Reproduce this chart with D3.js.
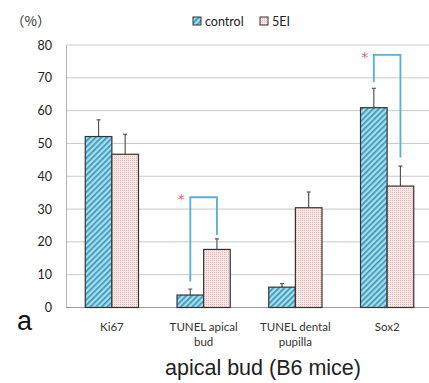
<!DOCTYPE html>
<html>
<head>
<meta charset="utf-8">
<script src="https://cdn.jsdelivr.net/npm/d3@7"></script>
<style>
  body { margin: 0; background: #fff; }
  svg { display: block; }
</style>
</head>
<body>
<div id="chart"></div>
<script>
const WIDTH = 429
const HEIGHT = 383

// data
const categories = ["Ki67", "TUNEL apical bud", "TUNEL dental pupilla", "Sox2"]
const categoryLines = [["Ki67"], ["TUNEL apical", "bud"], ["TUNEL dental", "pupilla"], ["Sox2"]]
const seriesNames = ["control", "5EI"]
const controlValues = [52.1, 3.8, 6.2, 60.9]
const controlErrors = [5.1, 1.8, 1.1, 5.9]
const feiValues = [46.7, 17.7, 30.4, 37.0]
const feiErrors = [6.1, 3.2, 4.8, 6.1]
const yTicks = [0, 10, 20, 30, 40, 50, 60, 70, 80]
// significance brackets: top of bracket, bottom of left leg, bottom of right leg
const sigCategories = ["TUNEL apical bud", "Sox2"]
const sigTop = [33.6, 77.0]
const sigLeft = [7.9, 68.7]
const sigRight = [22.1, 45.7]

const svg = d3.select("#chart").append("svg")
    .attr("width", WIDTH)
    .attr("height", HEIGHT)

const defs = svg.append("defs")

const hatch = defs.append("pattern")
    .attr("id", "hatch")
    .attr("patternUnits", "userSpaceOnUse")
    .attr("width", 4)
    .attr("height", 4)
    .attr("patternTransform", "rotate(45)")
hatch.append("rect").attr("width", 4).attr("height", 4).attr("fill", "#a3def0")
hatch.append("rect").attr("width", 1.6).attr("height", 4).attr("fill", "#3a92b2")

const dots = defs.append("pattern")
    .attr("id", "dots")
    .attr("patternUnits", "userSpaceOnUse")
    .attr("width", 2)
    .attr("height", 2)
dots.append("rect").attr("width", 2).attr("height", 2).attr("fill", "#fbe6e6")
dots.append("rect").attr("width", 1).attr("height", 1).attr("fill", "#e9b9b9")

const fills = { "control": "url(#hatch)", "5EI": "url(#dots)" }

const x = d3.scaleBand()
    .domain(categories)
    .range([66, 433])
    .paddingInner(0.42)
    .paddingOuter(0.21)

const xSub = d3.scaleBand()
    .domain(seriesNames)
    .range([0, x.bandwidth()])

const y = d3.scaleLinear()
    .domain([0, 80])
    .range([307.5, 45])

// grid lines
svg.append("g")
    .selectAll("line")
    .data(yTicks.slice(1))
    .join("line")
    .attr("x1", 66)
    .attr("x2", WIDTH)
    .attr("y1", d => y(d))
    .attr("y2", d => y(d))
    .attr("stroke", "#c9c9c9")
    .attr("stroke-width", 1)

// y axis
const yAxis = svg.append("g")
    .attr("transform", "translate(66,0)")
    .call(d3.axisLeft(y).tickValues(yTicks).tickSize(0).tickPadding(14))
yAxis.select(".domain").attr("stroke", "#b5b5b5")
yAxis.selectAll("text")
    .attr("font-family", "Lato, 'Open Sans', sans-serif")
    .attr("font-size", 12.5)
    .attr("fill", "#222")

// x axis baseline
svg.append("line")
    .attr("x1", 66).attr("x2", WIDTH)
    .attr("y1", y(0)).attr("y2", y(0))
    .attr("stroke", "#9a9a9a")

const rows = categories.map((c, i) => [
    { cat: c, key: "control", value: controlValues[i], err: controlErrors[i] },
    { cat: c, key: "5EI", value: feiValues[i], err: feiErrors[i] }
]).flat()

// error bars (behind bars)
const errG = svg.append("g")
    .attr("stroke", "#555")
    .attr("stroke-width", 1.2)
errG.selectAll("line.err")
    .data(rows)
    .join("line")
    .attr("class", "err")
    .attr("x1", d => x(d.cat) + xSub(d.key) + xSub.bandwidth() / 2)
    .attr("x2", d => x(d.cat) + xSub(d.key) + xSub.bandwidth() / 2)
    .attr("y1", d => y(d.value))
    .attr("y2", d => y(d.value + d.err))
errG.selectAll("line.cap")
    .data(rows)
    .join("line")
    .attr("class", "cap")
    .attr("x1", d => x(d.cat) + xSub(d.key) + xSub.bandwidth() / 2 - 2)
    .attr("x2", d => x(d.cat) + xSub(d.key) + xSub.bandwidth() / 2 + 2)
    .attr("y1", d => y(d.value + d.err))
    .attr("y2", d => y(d.value + d.err))

// bars
svg.append("g")
    .selectAll("rect")
    .data(rows)
    .join("rect")
    .attr("x", d => x(d.cat) + xSub(d.key))
    .attr("y", d => y(d.value))
    .attr("width", xSub.bandwidth())
    .attr("height", d => y(0) - y(d.value))
    .attr("fill", d => fills[d.key])
    .attr("stroke", "#333")
    .attr("stroke-width", 1.2)

// significance brackets
const sig = sigCategories.map((c, i) => ({ cat: c, top: sigTop[i], left: sigLeft[i], right: sigRight[i] }))
const sigG = svg.append("g")
sigG.selectAll("path")
    .data(sig)
    .join("path")
    .attr("fill", "none")
    .attr("stroke", "#5aaed6")
    .attr("stroke-width", 1.8)
    .attr("d", d => {
        const xl = x(d.cat) + xSub("control") + xSub.bandwidth() / 2
        const xr = x(d.cat) + xSub("5EI") + xSub.bandwidth() / 2
        return `M${xl},${y(d.left)}V${y(d.top)}H${xr}V${y(d.right)}`
    })
sigG.selectAll("text")
    .data(sig)
    .join("text")
    .attr("x", d => x(d.cat) + xSub("control") + xSub.bandwidth() / 2 - 9)
    .attr("y", d => y(d.top) + 7)
    .attr("text-anchor", "middle")
    .attr("font-family", "'DejaVu Sans', sans-serif")
    .attr("font-size", 14)
    .attr("fill", "#e0607a")
    .text("*")

// category labels
const catG = svg.append("g")
    .attr("font-family", "Lato, 'Open Sans', sans-serif")
    .attr("font-size", 11.5)
    .attr("fill", "#333")
    .attr("text-anchor", "middle")
catG.selectAll("text")
    .data(categories)
    .join("text")
    .attr("x", d => x(d) + x.bandwidth() / 2)
    .attr("y", 331)
    .each(function (d, i) {
        d3.select(this).selectAll("tspan")
            .data(categoryLines[i])
            .join("tspan")
            .attr("x", x(d) + x.bandwidth() / 2)
            .attr("dy", (t, j) => j === 0 ? 0 : 15)
            .text(t => t)
    })

// unit label
svg.append("text")
    .attr("x", 11)
    .attr("y", 26)
    .attr("font-family", "'Noto Sans CJK JP', sans-serif")
    .attr("font-size", 13.5)
    .attr("fill", "#333")
    .text("（%）")

// legend
const legend = svg.append("g")
    .attr("font-family", "Lato, 'Open Sans', sans-serif")
    .attr("font-size", 12.5)
    .attr("fill", "#222")
const legendX = [193, 260]
legend.selectAll("rect")
    .data(seriesNames)
    .join("rect")
    .attr("x", (d, i) => legendX[i])
    .attr("y", 17)
    .attr("width", 8)
    .attr("height", 8)
    .attr("fill", d => fills[d])
    .attr("stroke", "#333")
legend.selectAll("text")
    .data(seriesNames)
    .join("text")
    .attr("x", (d, i) => legendX[i] + 12)
    .attr("y", 26)
    .text(d => d)

// panel letter and title
svg.append("text")
    .attr("x", 17)
    .attr("y", 330)
    .attr("font-family", "'Liberation Sans', Arial, sans-serif")
    .attr("font-size", 27)
    .attr("fill", "#111")
    .text("a")

svg.append("text")
    .attr("x", 263)
    .attr("y", 375)
    .attr("text-anchor", "middle")
    .attr("font-family", "'Liberation Sans', Arial, sans-serif")
    .attr("font-size", 21.5)
    .attr("fill", "#222")
    .text("apical bud (B6 mice)")
</script>
</body>
</html>
